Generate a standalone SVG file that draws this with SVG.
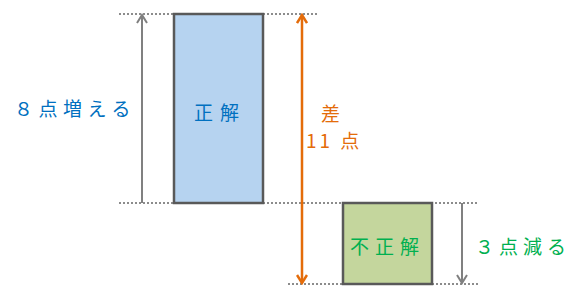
<svg xmlns="http://www.w3.org/2000/svg" width="576" height="296" viewBox="0 0 576 296">
<style>
.guide{stroke:#8c8c8c;stroke-width:2;stroke-dasharray:2 2;fill:none}
.gray{stroke:#808080;stroke-width:2;fill:none}
.orange{stroke:#E46C0A;stroke-width:2.5;fill:none}
.box{stroke:#595959;stroke-width:2.5}
text{font-family:"Noto Sans CJK JP","Noto Sans",sans-serif;font-size:19px}
.blue{fill:#0070C0}
.grn{fill:#00B050}
.org{fill:#E46C0A}
</style>
<defs>
<marker id="ag" viewBox="0 0 12 12" refX="10" refY="6" markerWidth="12" markerHeight="12" markerUnits="userSpaceOnUse" orient="auto-start-reverse">
<path d="M2,1 L10,6 L2,11" fill="none" stroke="#808080" stroke-width="2"/>
</marker>
<marker id="ao" viewBox="0 0 12 12" refX="10" refY="6" markerWidth="12" markerHeight="12" markerUnits="userSpaceOnUse" orient="auto-start-reverse">
<path d="M2,1 L10,6 L2,11" fill="none" stroke="#E46C0A" stroke-width="2.5"/>
</marker>
</defs>
<g id="guides">
<line class="guide" x1="119" y1="14" x2="318" y2="14"/>
<line class="guide" x1="119" y1="203" x2="478" y2="203"/>
<line class="guide" x1="288" y1="284" x2="478" y2="284"/>
</g>
<g id="correct">
<rect class="box" x="174" y="14" width="89" height="189" fill="#B6D3F0"/>
<text class="blue" x="194" y="120" letter-spacing="7">正解</text>
</g>
<g id="incorrect">
<rect class="box" x="343" y="203" width="89" height="81" fill="#C4D69D"/>
<text class="grn" x="350" y="254" letter-spacing="6">不正解</text>
</g>
<g id="connectors">
<line class="gray" x1="142" y1="203" x2="142" y2="15" marker-end="url(#ag)"/>
<line class="gray" x1="462" y1="203" x2="462" y2="283" marker-end="url(#ag)"/>
<line class="orange" x1="302" y1="15" x2="302" y2="283" marker-start="url(#ao)" marker-end="url(#ao)"/>
</g>
<g id="labels">
<text class="blue" x="14" y="116" letter-spacing="5.5">８点増える</text>
<text class="org" x="321" y="121">差</text>
<text class="org" x="306" y="148" letter-spacing="3">11 点</text>
<text class="grn" x="475" y="254" letter-spacing="5">３点減る</text>
</g>
</svg>
